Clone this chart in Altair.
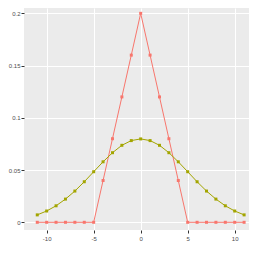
import altair as alt
import pandas as pd

x_vals = list(range(-11, 12))
triangle = [0, 0, 0, 0, 0, 0, 0, 0.04, 0.08, 0.12, 0.16, 0.2, 0.16, 0.12, 0.08, 0.04, 0, 0, 0, 0, 0, 0, 0]
normal = [0.0071, 0.0108, 0.0158, 0.0222, 0.0299, 0.0388, 0.0484, 0.0579, 0.0666, 0.0737, 0.0782, 0.0798,
          0.0782, 0.0737, 0.0666, 0.0579, 0.0484, 0.0388, 0.0299, 0.0222, 0.0158, 0.0108, 0.0071]
series_names = ["triangle", "normal"]
colors = ["#F8766D", "#A3A500"]

rows = []
for name, vals in zip(series_names, [triangle, normal]):
    for xv, yv in zip(x_vals, vals):
        rows.append({"x": xv, "y": yv, "s": name})
df = pd.DataFrame(rows)

xs = alt.Scale(domain=[-12.41, 11.52], nice=False, zero=False)
ys = alt.Scale(domain=[-0.00737, 0.2051], nice=False, zero=False)
cs = alt.Scale(domain=series_names, range=colors)

xaxis = alt.Axis(values=[-10, -5, 0, 5, 10], title=None, labelExpr="'' + datum.value",
                 labelFontSize=6, labelColor="#4D4D4D", tickColor="#333333", tickSize=3,
                 labelPadding=2, gridColor="white", gridWidth=1, domain=False, labelFont="Liberation Sans")
yaxis = alt.Axis(values=[0, 0.05, 0.1, 0.15, 0.2], title=None, format=".2~f",
                 labelFontSize=6, labelColor="#4D4D4D", tickColor="#333333", tickSize=3,
                 labelPadding=1, gridColor="white", gridWidth=1, domain=False, labelFont="Liberation Sans")

base = alt.Chart(df).encode(
    x=alt.X("x:Q", scale=xs, axis=xaxis),
    y=alt.Y("y:Q", scale=ys, axis=yaxis),
    color=alt.Color("s:N", scale=cs, legend=None),
    detail="s:N",
)

lines = base.mark_line(strokeWidth=1, clip=True)
pts = base.mark_point(shape="square", filled=True, size=9, opacity=1, clip=True)

chart = (lines + pts).properties(
    width=225, height=222,
    background="white",
    autosize=alt.AutoSizeParams(type="none"),
    padding={"left": 16, "top": 0, "right": 0, "bottom": 14},
).configure_view(fill="#EBEBEB", stroke=None)

chart.save("out.html", embed_options={"renderer": "svg", "actions": False})
